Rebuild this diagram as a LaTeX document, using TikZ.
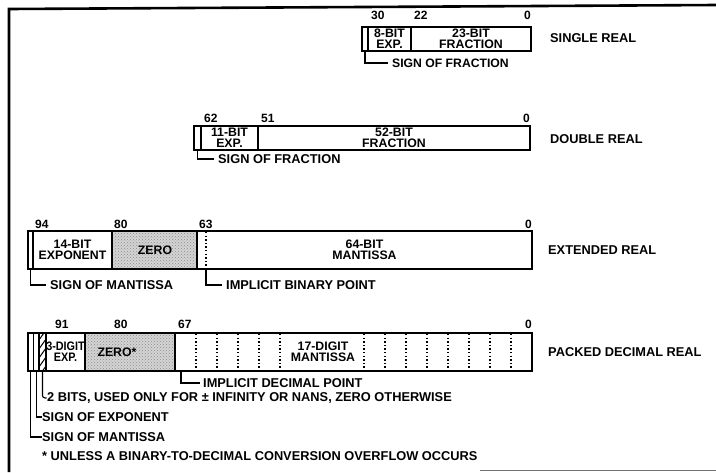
\documentclass[tikz,border=0pt]{standalone}
\usepackage{fontspec}
\setmainfont{Liberation Sans}
\newfontfamily\condensedfont[FakeStretch=0.88]{Liberation Sans}
\usetikzlibrary{patterns}
\begin{document}
\begin{tikzpicture}[x=1pt,y=-1pt,
  cellbox/.style={draw, line width=1.2pt, anchor=north west, inner sep=0pt, outer sep=0pt,
     align=center, font=\fontsize{12.3}{11}\selectfont\bfseries},
  zerofill/.style={preaction={fill=black!17}, pattern=crosshatch dots, pattern color=black!45},
  num/.style={inner sep=0pt, font=\fontsize{12}{12}\selectfont\bfseries},
  lbl/.style={inner sep=0pt, anchor=west, font=\fontsize{12.8}{12.8}\selectfont\bfseries},
  conn/.style={line width=1.1pt},
  dotsep/.style={line width=1.3pt, dash pattern=on 1.4pt off 2.2pt},
  hatch/.style={line width=1pt},
  frame/.style={line width=2.6pt}]
\useasboundingbox (0,0) rectangle (716,472);
% frame
\draw[frame] (716,5) -- (9,9) -- (9,472);
\draw[line width=0.8pt, black!55] (480,470.5) -- (716,470.5);

% ---------------- SINGLE REAL
\node[cellbox, minimum width=6pt, minimum height=24pt] (ssign) at (362,27) {};
\node[cellbox, minimum width=43pt, minimum height=24pt] (sexp) at (368,27) {8-BIT\\EXP.};
\node[cellbox, minimum width=120pt, minimum height=24pt] (sfrac) at (411,27) {23-BIT\\FRACTION};
\node[num, anchor=west] (n30) at (371,15) {30};
\node[num, anchor=west] (n22) at (414,15) {22};
\node[num, anchor=east] (n0a) at (531,15) {0};
\node[lbl] (lsingle) at (550,38) {SINGLE REAL};
\node[lbl, font=\fontsize{12.2}{12.2}\selectfont\bfseries] (lssign) at (392,63) {SIGN OF FRACTION};
\draw[conn] (ssign.south) |- ([xshift=-4pt]lssign.west);

% ---------------- DOUBLE REAL
\node[cellbox, minimum width=7pt, minimum height=24pt] (dsign) at (194,126) {};
\node[cellbox, minimum width=57pt, minimum height=24pt] (dexp) at (201,126) {11-BIT\\EXP.};
\node[cellbox, minimum width=272pt, minimum height=24pt] (dfrac) at (258,126) {52-BIT\\FRACTION};
\node[num, anchor=west] (n62) at (204,118) {62};
\node[num, anchor=west] (n51) at (261,118) {51};
\node[num, anchor=east] (n0b) at (530,118) {0};
\node[lbl] (ldouble) at (550,139) {DOUBLE REAL};
\node[lbl] (ldsign) at (218,159) {SIGN OF FRACTION};
\draw[conn] (dsign.south) |- ([xshift=-4pt]ldsign.west);

% ---------------- EXTENDED REAL
\node[cellbox, minimum width=5pt, minimum height=38pt] (esign) at (28,231) {};
\node[cellbox, minimum width=79pt, minimum height=38pt] (eexp) at (33,231) {14-BIT\\EXPONENT};
\node[cellbox, zerofill, minimum width=85pt, minimum height=38pt] (ezero) at (112,231) {};
\node[inner sep=0pt, font=\fontsize{12.3}{12}\selectfont\bfseries] (ezerot) at (155,250) {ZERO};
\node[cellbox, minimum width=335pt, minimum height=38pt] (emant) at (197,231) {64-BIT\\MANTISSA};
\coordinate (ebpt) at (206,232);
\coordinate (ebpb) at (206,269);
\draw[dotsep] (ebpt) -- (ebpb);
\node[num, anchor=west] (n94) at (35,224) {94};
\node[num, anchor=west] (n80a) at (114,224) {80};
\node[num, anchor=west] (n63) at (199,224) {63};
\node[num, anchor=east] (n0c) at (532,224) {0};
\node[lbl] (lext) at (548,250) {EXTENDED REAL};
\node[lbl] (lesign) at (50,285) {SIGN OF MANTISSA};
\node[lbl] (lebp) at (226,285) {IMPLICIT BINARY POINT};
\draw[conn] (esign.south) |- ([xshift=-4pt]lesign.west);
\draw[conn] (ebpb) |- ([xshift=-4pt]lebp.west);

% ---------------- PACKED DECIMAL REAL
\node[cellbox, minimum width=5.5pt, minimum height=38pt] (psm) at (28,333) {};
\node[cellbox, minimum width=5.5pt, minimum height=38pt] (pse) at (33.5,333) {};
\node[cellbox, minimum width=7pt, minimum height=38pt] (pinf) at (39,333) {};
\begin{scope}
  \clip (39,333) rectangle (46,371);
  \foreach \d in {0,9,18,27,36}{
    \draw[hatch] (39,340+\d) -- (46,330+\d);
  }
\end{scope}
\node[cellbox, minimum width=39pt, minimum height=38pt, font=\condensedfont\fontsize{12.3}{11}\selectfont\bfseries] (pexp) at (46,333) {3-DIGIT\\EXP.};
\node[cellbox, zerofill, minimum width=90pt, minimum height=38pt] (pzero) at (85,333) {};
\node[inner sep=0pt, font=\fontsize{12.3}{12}\selectfont\bfseries] (pzerot) at (117,352) {ZERO*};
\node[cellbox, minimum width=357pt, minimum height=38pt] (pmant) at (175,333) {};
\node[inner sep=0pt, align=center, font=\fontsize{12.3}{11}\selectfont\bfseries] (pmantt) at (323,352) {17-DIGIT\\MANTISSA};
\foreach \k in {1,...,5,9,10,...,16}{
  \draw[dotsep] (175+21*\k,334) -- (175+21*\k,370);
}
\coordinate (pdp) at (181,371);
\node[num, anchor=west] (n91) at (55,324) {91};
\node[num, anchor=west] (n80b) at (114,324) {80};
\node[num, anchor=west] (n67) at (178,324) {67};
\node[num, anchor=east] (n0d) at (532,324) {0};
\node[lbl] (lpacked) at (548,352) {PACKED DECIMAL REAL};
\node[lbl] (lpdp) at (203,383) {IMPLICIT DECIMAL POINT};
\node[lbl] (lpinf) at (47,398) {2 BITS, USED ONLY FOR \char"00B1\ INFINITY OR NANS, ZERO OTHERWISE};
\node[lbl] (lpse) at (42,417) {SIGN OF EXPONENT};
\node[lbl] (lpsm) at (42,437) {SIGN OF MANTISSA};
\node[lbl] (lnote) at (42,456) {* UNLESS A BINARY-TO-DECIMAL CONVERSION OVERFLOW OCCURS};
\draw[conn] (pdp) |- ([xshift=-3pt]lpdp.west);
\draw[conn, rounded corners=2.5pt] (pinf.south) |- ([xshift=-0.5pt]lpinf.west);
\draw[conn] (pse.south) |- ([xshift=-0.5pt]lpse.west);
\draw[conn] (psm.south) |- ([xshift=-0.5pt]lpsm.west);
\end{tikzpicture}
\end{document}
